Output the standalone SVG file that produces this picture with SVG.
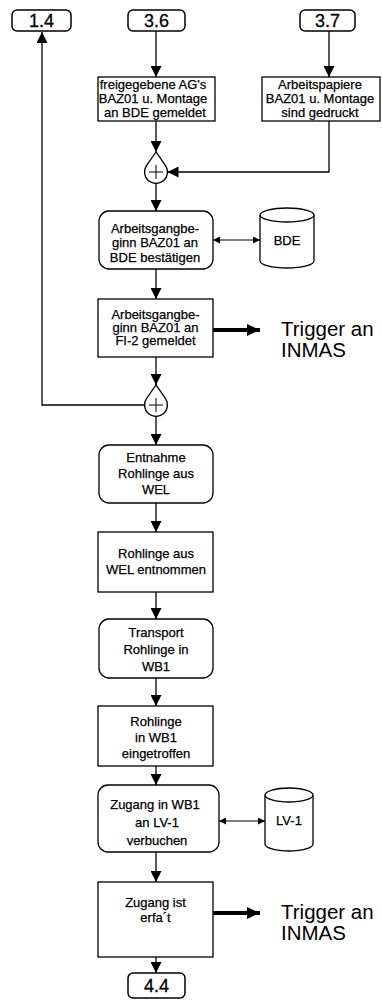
<svg xmlns="http://www.w3.org/2000/svg" width="382" height="1000" viewBox="0 0 382 1000">
  <style>
    .box { fill: #fff; stroke: #000; stroke-width: 1.3; }
    .ref { fill: #fff; stroke: #000; stroke-width: 1.5; }
    .t { font-family: "Liberation Sans", Arial, sans-serif; fill: #000; stroke: #000; stroke-width: 0.25; text-anchor: middle; font-size: 13px; }
    .num { font-size: 18px; stroke-width: 0.3; }
    .trig { font-family: "Liberation Sans", Arial, sans-serif; font-size: 20.5px; fill: #000; }
    .ln { fill: none; stroke: #000; stroke-width: 1.3; }
    .thin { fill: none; stroke: #000; stroke-width: 1; }
    .thick { fill: none; stroke: #000; stroke-width: 4; }
  </style>
  <defs>
    <marker id="arr" markerUnits="userSpaceOnUse" markerWidth="11" markerHeight="11" refX="11" refY="5.5" orient="auto">
      <path d="M0,0 L11,5.5 L0,11 Z" fill="#000"/>
    </marker>
    <marker id="sm" markerUnits="userSpaceOnUse" markerWidth="7" markerHeight="7" refX="7" refY="3.5" orient="auto-start-reverse">
      <path d="M0,0 L7,3.5 L0,7 Z" fill="#000"/>
    </marker>
    <marker id="big" markerUnits="userSpaceOnUse" markerWidth="13" markerHeight="12" refX="13" refY="6" orient="auto">
      <path d="M0,0 L13,6 L0,12 Z" fill="#000"/>
    </marker>
  </defs>

  <rect width="382" height="1000" fill="#fff"/>

  <!-- connectors -->
  <g id="connectors">
    <line class="ln" x1="156" y1="31" x2="156" y2="77" marker-end="url(#arr)"/>
    <line class="ln" x1="329" y1="31" x2="329" y2="77" marker-end="url(#arr)"/>
    <line class="ln" x1="156" y1="121" x2="156" y2="152" marker-end="url(#arr)"/>
    <polyline class="ln" points="329,121 329,172 167.5,172" marker-end="url(#arr)"/>
    <line class="ln" x1="156" y1="183.5" x2="156" y2="211" marker-end="url(#arr)"/>
    <line class="thin" x1="213" y1="240" x2="260" y2="240" marker-start="url(#sm)" marker-end="url(#sm)"/>
    <line class="ln" x1="156" y1="269" x2="156" y2="299" marker-end="url(#arr)"/>
    <line class="thick" x1="213" y1="330" x2="260" y2="330" marker-end="url(#big)"/>
    <line class="ln" x1="156" y1="357" x2="156" y2="385" marker-end="url(#arr)"/>
    <polyline class="ln" points="144.5,405 42,405 42,32" marker-end="url(#arr)"/>
    <line class="ln" x1="156" y1="416.5" x2="156" y2="445" marker-end="url(#arr)"/>
    <line class="ln" x1="156" y1="503" x2="156" y2="532" marker-end="url(#arr)"/>
    <line class="ln" x1="156" y1="592" x2="156" y2="619" marker-end="url(#arr)"/>
    <line class="ln" x1="156" y1="678" x2="156" y2="706" marker-end="url(#arr)"/>
    <line class="ln" x1="156" y1="766" x2="156" y2="785" marker-end="url(#arr)"/>
    <line class="thin" x1="219" y1="821" x2="265" y2="821" marker-start="url(#sm)" marker-end="url(#sm)"/>
    <line class="ln" x1="156" y1="852" x2="156" y2="882" marker-end="url(#arr)"/>
    <line class="thick" x1="213" y1="913" x2="260" y2="913" marker-end="url(#big)"/>
    <line class="ln" x1="156" y1="957" x2="156" y2="973" marker-end="url(#arr)"/>
  </g>

  <!-- process references -->
  <g id="ref-1-4">
    <rect class="ref" x="12" y="10" width="59" height="21" rx="5"/>
    <text class="t num" x="41.5" y="27">1.4</text>
  </g>
  <g id="ref-3-6">
    <rect class="ref" x="128" y="10" width="57" height="21" rx="5"/>
    <text class="t num" x="156.5" y="27">3.6</text>
  </g>
  <g id="ref-3-7">
    <rect class="ref" x="300" y="10" width="55" height="21" rx="5"/>
    <text class="t num" x="327.5" y="27">3.7</text>
  </g>

  <!-- events and functions -->
  <g id="ev-freigegeben">
    <rect class="box" x="98" y="77" width="117" height="44"/>
    <text class="t" x="153" y="89">freigegebene AG's</text>
    <text class="t" x="153" y="103">BAZ01 u. Montage</text>
    <text class="t" x="155" y="117">an BDE gemeldet</text>
  </g>
  <g id="ev-papiere">
    <rect class="box" x="262" y="77" width="118" height="44"/>
    <text class="t" x="320" y="89">Arbeitspapiere</text>
    <text class="t" x="320" y="103">BAZ01 u. Montage</text>
    <text class="t" x="320" y="117">sind gedruckt</text>
  </g>

  <g id="merge-1">
    <path class="ln" d="M156,152 L146.6,165.4 A11.5,11.5 0 1 0 165.4,165.4 Z" fill="#fff"/>
    <path class="thin" d="M149,172 H163 M156,165 V179"/>
  </g>

  <g id="fn-bestaetigen">
    <rect class="box" x="99" y="211" width="114" height="58" rx="10"/>
    <text class="t" x="155" y="232.5">Arbeitsgangbe-</text>
    <text class="t" x="155" y="247">ginn BAZ01 an</text>
    <text class="t" x="155" y="261.5">BDE bestätigen</text>
  </g>
  <g id="db-bde">
    <path class="box" d="M260,215 A27,7 0 0 1 314,215 V261 A27,7 0 0 1 260,261 Z"/>
    <path class="ln" d="M260,215 A27,7 0 0 0 314,215"/>
    <text class="t" x="287" y="245">BDE</text>
  </g>

  <g id="ev-fi2">
    <rect class="box" x="98" y="299" width="115" height="58"/>
    <text class="t" x="155.5" y="319">Arbeitsgangbe-</text>
    <text class="t" x="155.5" y="332">ginn BAZ01 an</text>
    <text class="t" x="155.5" y="345">FI-2 gemeldet</text>
  </g>
  <g id="trigger-1">
    <text class="trig" x="281" y="336">Trigger an</text>
    <text class="trig" x="281" y="357">INMAS</text>
  </g>

  <g id="merge-2">
    <path class="ln" d="M156,385 L146.6,398.4 A11.5,11.5 0 1 0 165.4,398.4 Z" fill="#fff"/>
    <path class="thin" d="M149,405 H163 M156,398 V412"/>
  </g>

  <g id="fn-entnahme">
    <rect class="box" x="99" y="445" width="114" height="58" rx="10"/>
    <text class="t" x="156" y="462">Entnahme</text>
    <text class="t" x="156" y="478">Rohlinge aus</text>
    <text class="t" x="156" y="494">WEL</text>
  </g>
  <g id="ev-entnommen">
    <rect class="box" x="98" y="532" width="115" height="60"/>
    <text class="t" x="156" y="558">Rohlinge aus</text>
    <text class="t" x="156" y="574">WEL entnommen</text>
  </g>

  <g id="fn-transport">
    <rect class="box" x="99" y="619" width="114" height="59" rx="10"/>
    <text class="t" x="156" y="637">Transport</text>
    <text class="t" x="156" y="654">Rohlinge in</text>
    <text class="t" x="156" y="671">WB1</text>
  </g>
  <g id="ev-eingetroffen">
    <rect class="box" x="98" y="706" width="115" height="60"/>
    <text class="t" x="156" y="726">Rohlinge</text>
    <text class="t" x="156" y="742">in WB1</text>
    <text class="t" x="156" y="758">eingetroffen</text>
  </g>

  <g id="fn-verbuchen">
    <rect class="box" x="98" y="785" width="121" height="67" rx="10"/>
    <text class="t" x="155" y="809">Zugang in WB1</text>
    <text class="t" x="157" y="827">an LV-1</text>
    <text class="t" x="157" y="845">verbuchen</text>
  </g>
  <g id="db-lv1">
    <path class="box" d="M265,795 A24,7 0 0 1 313,795 V844 A24,7 0 0 1 265,844 Z"/>
    <path class="ln" d="M265,795 A24,7 0 0 0 313,795"/>
    <text class="t" x="289" y="825">LV-1</text>
  </g>

  <g id="ev-erfasst">
    <rect class="box" x="98" y="882" width="115" height="75"/>
    <text class="t" x="155.5" y="907">Zugang ist</text>
    <text class="t" x="155.5" y="922">erfa´t</text>
  </g>
  <g id="trigger-2">
    <text class="trig" x="281" y="919">Trigger an</text>
    <text class="trig" x="281" y="940">INMAS</text>
  </g>

  <g id="ref-4-4">
    <rect class="ref" x="128" y="973" width="57" height="25" rx="5"/>
    <text class="t num" x="156.5" y="992">4.4</text>
  </g>
</svg>
